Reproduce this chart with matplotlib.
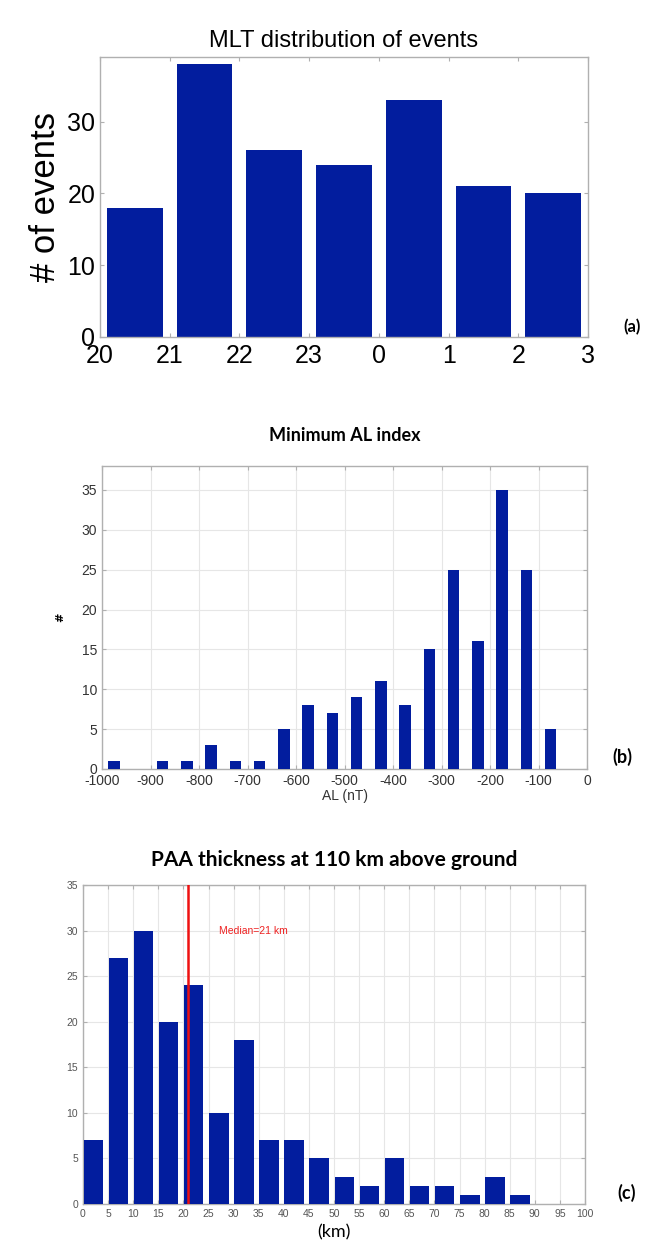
import numpy as np
import matplotlib
matplotlib.use('Agg')
import matplotlib.pyplot as plt

# Panel (a): MLT distribution
mlt_labels = ['20', '21', '22', '23', '0', '1', '2', '3']
mlt_counts = [18, 38, 26, 24, 33, 21, 20]

# Panel (b): minimum AL index, 50 nT bins
al_centers = [-975, -925, -875, -825, -775, -725, -675, -625, -575, -525,
              -475, -425, -375, -325, -275, -225, -175, -125, -75]
al_counts = [1, 0, 1, 1, 3, 1, 1, 5, 8, 7, 9, 11, 8, 15, 25, 16, 35, 25, 5]
al_ticks = [-1000, -900, -800, -700, -600, -500, -400, -300, -200, -100, 0]

# Panel (c): PAA thickness, 5 km bins
paa_edges = [0, 5, 10, 15, 20, 25, 30, 35, 40, 45,
             50, 55, 60, 65, 70, 75, 80, 85, 90, 95]
paa_counts = [7, 27, 30, 20, 24, 10, 18, 7, 7, 5, 3, 2, 5, 2, 2, 1, 3, 1, 0, 0]
paa_median = 21

BLUE = '#021d9e'
W, H = 650, 1245

fig = plt.figure(figsize=(W / 100, H / 100), dpi=100)


def box(left, top, right, bottom):
    return [left / W, 1 - bottom / H, (right - left) / W, (bottom - top) / H]


def matlab_frame(ax, color='#b0b0b0'):
    for s in ax.spines.values():
        s.set_color(color)
        s.set_linewidth(1.0)
    ax.tick_params(direction='in', top=True, right=True, color=color, length=3)


# ---- (a) ----
ax1 = fig.add_axes(box(100, 57, 588, 337))
x1 = np.arange(len(mlt_counts)) + 0.5
ax1.bar(x1, mlt_counts, width=0.8, color=BLUE, edgecolor='none')
ax1.set_xlim(0, len(mlt_counts))
ax1.set_ylim(0, 39)
ax1.set_xticks(np.arange(len(mlt_labels)))
ax1.set_xticklabels(mlt_labels, fontsize=18, family='Liberation Sans')
ax1.set_yticks([0, 10, 20, 30])
ax1.set_yticklabels(['0', '10', '20', '30'], fontsize=18, family='Liberation Sans')
ax1.set_ylabel('# of events', fontsize=25, family='Liberation Sans', labelpad=4)
matlab_frame(ax1)
ax1.tick_params(axis='x', pad=5)
ax1.set_title('MLT distribution of events', fontsize=17, family='Liberation Sans', pad=7)
fig.text(632 / W, 1 - 327 / H, '(a)', fontsize=12, fontweight='bold',
         family='Lato', ha='center', va='center')

# ---- (b) ----
ax2 = fig.add_axes(box(102, 466, 587, 769))
ax2.bar(al_centers, al_counts, width=24, color=BLUE, edgecolor='none', zorder=3)
ax2.set_xlim(-1000, 0)
ax2.set_ylim(0, 38)
ax2.set_xticks(al_ticks)
ax2.set_xticklabels([str(t) for t in al_ticks])
ax2.set_yticks(np.arange(0, 36, 5))
ax2.grid(True, color='#e6e6e6', linewidth=0.8, zorder=0)
ax2.tick_params(labelsize=10, labelcolor='#333333')
for lbl in ax2.get_xticklabels() + ax2.get_yticklabels():
    lbl.set_family('Liberation Sans')
ax2.set_xlabel('AL (nT)', fontsize=10, family='Liberation Sans', labelpad=1, color='#333333')
ax2.set_ylabel('#', fontsize=8, fontweight='bold', labelpad=12)
matlab_frame(ax2)
ax2.set_title('Minimum AL index', fontsize=13, fontweight='bold', family='Lato', pad=18)
fig.text(622 / W, 1 - 757 / H, '(b)', fontsize=13, fontweight='bold',
         family='Lato', ha='center', va='center')

# ---- (c) ----
ax3 = fig.add_axes(box(83, 885, 585, 1204))
ax3.bar(np.array(paa_edges) + 0.1, paa_counts, width=3.9, align='edge',
        color=BLUE, edgecolor='none', zorder=3)
ax3.axvline(paa_median, color='#ee1111', linewidth=1.8, zorder=4)
ax3.text(paa_median + 6, 30, 'Median=21 km', color='#ee2222', fontsize=7.5,
         family='Liberation Sans', va='center', zorder=5)
ax3.set_xlim(0, 100)
ax3.set_ylim(0, 35)
ax3.set_xticks(np.arange(0, 101, 5))
ax3.set_yticks(np.arange(0, 36, 5))
ax3.grid(True, color='#e6e6e6', linewidth=0.8, zorder=0)
ax3.tick_params(labelsize=7.5, labelcolor='#555555')
for lbl in ax3.get_xticklabels() + ax3.get_yticklabels():
    lbl.set_family('Liberation Sans')
ax3.set_xlabel('(km)', fontsize=13, family='Lato', labelpad=4)
matlab_frame(ax3)
ax3.set_title('PAA thickness at 110 km above ground', fontsize=15,
              fontweight='bold', family='Lato', pad=14)
fig.text(627 / W, 1 - 1193 / H, '(c)', fontsize=13, fontweight='bold',
         family='Lato', ha='center', va='center')

fig.savefig('out.png', dpi=100)
